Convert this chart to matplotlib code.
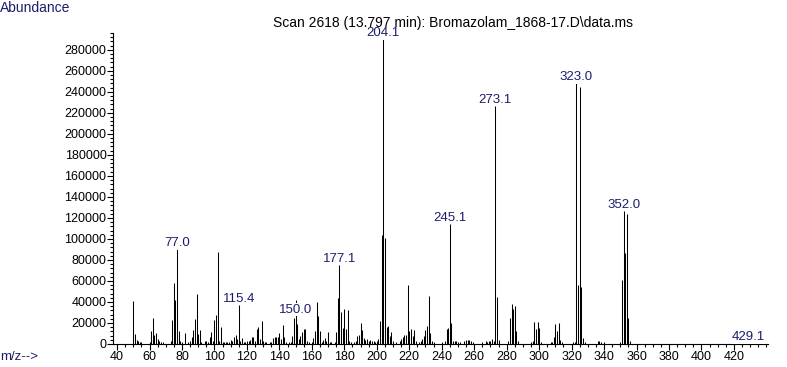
import matplotlib
matplotlib.use('Agg')
import matplotlib.pyplot as plt
from matplotlib.ticker import MultipleLocator, FixedLocator

plt.rcParams['font.family'] = ['Liberation Sans', 'DejaVu Sans']
plt.rcParams['font.size'] = 9

# peak list (m/z, abundance)
mz = [50, 51, 52, 53, 54, 55, 60, 61, 62, 63, 64, 65, 66, 67, 68,
      73, 74, 75, 76, 77, 78, 79, 80, 82, 84, 85, 86, 87, 88, 89, 90, 91, 92,
      94, 95, 96, 97, 98, 99, 100, 101, 102, 103, 104, 105, 106, 107, 108, 109,
      110, 111, 112, 113, 114, 115, 116, 117, 118, 119, 120, 121, 122, 123, 124,
      125, 126, 127, 128, 129, 130, 131, 132, 134, 135, 136, 137, 138, 139, 140,
      141, 142, 143, 144, 146, 147, 148, 149, 150, 151, 152, 153, 154, 155, 156,
      157, 158, 160, 161, 162, 163, 164, 165, 166, 167, 168, 169, 170, 171, 172,
      174, 175, 176, 177, 178, 179, 180, 181, 182, 183, 184, 186, 187, 188, 189,
      190, 191, 192, 193, 194, 195, 196, 197, 198, 199, 200, 201, 202, 203, 204,
      205, 206, 207, 208, 209, 210, 212, 214, 215, 216, 217, 218, 219, 220, 221,
      222, 223, 224, 226, 227, 228, 229, 230, 231, 232, 233, 234, 235, 240, 242,
      243, 244, 245, 246, 247, 248, 249, 250, 251, 254, 255, 256, 257, 258, 259,
      265, 267, 268, 269, 270, 271, 272, 273, 274, 275, 281, 282, 283, 284, 285,
      286, 287, 295, 296, 297, 298, 299, 300, 301, 307, 308, 309, 310, 311, 312,
      313, 314, 321, 322, 323, 324, 325, 326, 327, 328, 336, 337, 338, 340, 350,
      351, 352, 353, 354, 355, 356, 429]
abundance = [41000, 9500, 4000, 2500, 2000, 1500, 2000, 12700, 24700, 9000, 10000, 5000, 2500, 1500, 2000,
             3000, 23000, 58000, 42000, 90000, 12000, 3000, 1500, 10000, 2000, 2500, 6500, 13000, 24000, 48000, 9500, 13000, 2000,
             2500, 3000, 1500, 6500, 11000, 3000, 23000, 28000, 88000, 3000, 16000, 2000, 1500, 2000, 2000, 1500,
             4000, 2500, 6500, 9000, 5000, 37000, 3000, 6000, 2000, 2000, 3000, 3000, 4000, 7000, 7000,
             3000, 14000, 16000, 5000, 22000, 3000, 2000, 1500, 1500, 2000, 6000, 7000, 7000, 6500, 10000,
             5000, 18000, 7000, 2000, 1500, 2000, 8000, 25000, 42000, 19000, 5000, 8000, 11000, 14000, 14000,
             3000, 1500, 2000, 6000, 12000, 40000, 27000, 12000, 2000, 4000, 6000, 3000, 11000, 2000, 1500,
             2000, 11000, 44000, 75000, 30000, 15000, 33000, 14000, 32000, 3000, 1500, 2000, 3000, 8000, 9000,
             20000, 13000, 6000, 4000, 5000, 3000, 4000, 3000, 2500, 2000, 3000, 5000, 22000, 104000, 290000,
             101000, 16000, 17000, 8000, 11000, 3000, 1500, 2500, 5000, 7000, 9000, 9000, 56000, 12000, 14000,
             8000, 13000, 3000, 1500, 2500, 5000, 8000, 13000, 17000, 46000, 10000, 3000, 1500, 1500, 3000,
             14000, 15000, 114000, 20000, 3000, 2500, 3000, 2000, 1500, 2500, 4000, 4000, 4000, 3000, 1500,
             1500, 2500, 2000, 3000, 2500, 5000, 3000, 227000, 45000, 4000, 3000, 25000, 38000, 33000, 36000,
             12000, 3000, 2000, 3000, 21000, 14000, 21000, 15000, 2000, 2000, 2000, 7000, 19000, 12000, 20000,
             4000, 2000, 2000, 2000, 248000, 56000, 245000, 54000, 6000, 1500, 3000, 2500, 2000, 1500, 2000,
             61000, 127000, 87000, 124000, 25000, 3000, 500]

label_mz = [77, 115, 150, 177, 204, 245, 273, 323, 352, 429]
label_text = ['77.0', '115.4', '150.0', '177.1', '204.1', '245.1', '273.1', '323.0', '352.0', '429.1']

navy = '#1c1c6c'

fig = plt.figure(figsize=(7.87, 3.67), dpi=100)
ax = fig.add_axes([0.1442, 0.0627, 0.8317, 0.8473])
ax.patch.set_alpha(0)

ax.vlines(mz, 0, abundance, colors='black', lw=0.75)

ax.set_xlim(37.8, 441)
ax.set_ylim(0, 296000)

ax.xaxis.set_major_locator(FixedLocator(range(40, 421, 20)))
ax.xaxis.set_minor_locator(MultipleLocator(5))
yt = list(range(0, 280001, 20000))
ax.set_yticks(yt)
ax.set_yticklabels([str(v) for v in yt])
ax.yaxis.set_minor_locator(MultipleLocator(4000))
ax.tick_params(which='major', direction='out', length=4, width=0.8, pad=1, labelsize=9)
ax.tick_params(which='minor', direction='out', length=2, width=0.8)

for s in ['top', 'right']:
    ax.spines[s].set_visible(False)
for s in ['left', 'bottom']:
    ax.spines[s].set_linewidth(0.8)

heights = dict(zip(mz, abundance))
for m, t in zip(label_mz, label_text):
    y = heights[m]
    if m == 150:
        y = 27000  # label sits low in the original, over its own peak
    ax.annotate(t, (m, y), xytext=(0, 0), textcoords='offset points',
                ha='center', va='bottom', color=navy, fontsize=9.5,
                bbox=dict(fc='white', ec='none', pad=0.2), zorder=5,
                annotation_clip=False)

fig.text(0.576, 0.937, r'Scan 2618 (13.797 min): Bromazolam_1868-17.D\data.ms',
         ha='center', va='center', fontsize=10, color='black', zorder=-1)
fig.text(0.0, 0.978, 'Abundance', ha='left', va='center', fontsize=10, color=navy)
fig.text(0.0, 0.027, 'm/z-->', ha='left', va='center', fontsize=9.5, color=navy)

fig.savefig('out.png', dpi=100)
